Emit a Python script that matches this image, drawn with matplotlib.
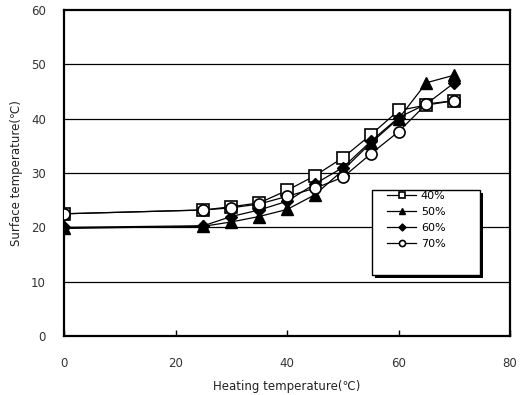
import numpy as np
import matplotlib.pyplot as plt
from matplotlib.patches import Rectangle

# heating temperature (C)
heating = [0, 25, 30, 35, 40, 45, 50, 55, 60, 65, 70]

# surface temperature (C) per series
s40 = [22.5, 23.2, 23.8, 24.5, 26.8, 29.5, 32.8, 37.0, 41.5, 42.5, 43.3]
s50 = [19.8, 20.2, 21.0, 22.0, 23.3, 26.0, 30.5, 35.5, 40.0, 46.6, 48.0]
s60 = [20.0, 20.3, 22.0, 23.2, 24.8, 28.0, 31.0, 35.8, 40.2, 42.7, 46.6]
s70 = [22.5, 23.2, 23.6, 24.3, 25.7, 27.2, 29.2, 33.5, 37.6, 42.7, 43.3]
labels = ['40%', '50%', '60%', '70%']

plt.rcParams['font.family'] = ['DejaVu Sans']

fig = plt.figure(figsize=(5.2, 3.95), dpi=100)
ax = fig.add_axes([0.123, 0.149, 0.858, 0.826])

# horizontal grid lines
for g in [10, 20, 30, 40, 50]:
    ax.axhline(g, color='black', lw=0.9, zorder=1)

ax.plot(heating, s40, color='black', lw=0.9, marker='s', ms=8, mfc='white', mec='black', mew=1.2, label=labels[0], zorder=3)
ax.plot(heating, s50, color='black', lw=0.9, marker='^', ms=8, mfc='black', mec='black', label=labels[1], zorder=3)
ax.plot(heating, s60, color='black', lw=0.9, marker='D', ms=6.5, mfc='black', mec='black', label=labels[2], zorder=3)
ax.plot(heating, s70, color='black', lw=0.9, marker='o', ms=8, mfc='white', mec='black', mew=1.2, label=labels[3], zorder=4)

ax.set_xlim(0, 80)
ax.set_ylim(0, 60)
ax.set_xticks([0, 20, 40, 60, 80])
ax.set_yticks([0, 10, 20, 30, 40, 50, 60])
ax.tick_params(direction='in', length=4, width=1, labelsize=8.5, pad=15, labelcolor='#333333')
ax.tick_params(axis='y', length=0, pad=13)
for sp in ax.spines.values():
    sp.set_linewidth(1.6)

ax.set_xlabel('Heating temperature(℃)', fontsize=8.5, labelpad=7, color='#222222')
ax.set_ylabel('Surface temperature(℃)', fontsize=8.5, labelpad=6, color='#222222')

# legend box with black drop shadow
x0, y0, w, h = 0.69, 0.187, 0.242, 0.261
ax.add_patch(Rectangle((x0 + 0.007, y0 - 0.01), w, h, transform=ax.transAxes,
                       facecolor='black', edgecolor='none', zorder=5))
ax.add_patch(Rectangle((x0, y0), w, h, transform=ax.transAxes,
                       facecolor='white', edgecolor='black', lw=1.0, zorder=6))
leg = ax.legend(loc='upper left', bbox_to_anchor=(x0 + 0.03, y0 + h + 0.005), fontsize=8,
                frameon=False, markerscale=0.55, handlelength=2.6, handletextpad=0.4,
                labelspacing=0.55, borderaxespad=0, borderpad=0.2)
leg.set_zorder(7)
plt.savefig('out.png')
